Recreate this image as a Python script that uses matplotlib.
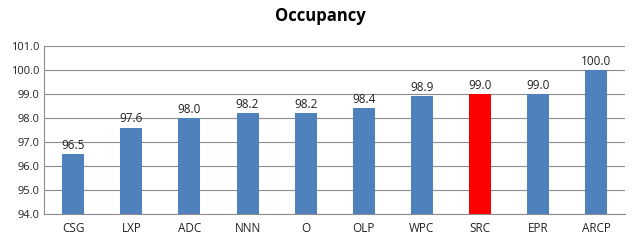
import matplotlib.pyplot as plt

# Occupancy by company
tickers = ["CSG", "LXP", "ADC", "NNN", "O", "OLP", "WPC", "SRC", "EPR", "ARCP"]
occupancy = [96.5, 97.6, 98.0, 98.2, 98.2, 98.4, 98.9, 99.0, 99.0, 100.0]
highlight = "SRC"

plt.rcParams["font.family"] = ["Open Sans", "DejaVu Sans"]

fig = plt.figure(figsize=(6.4, 2.46), dpi=100)
ax = fig.add_axes([0.069, 0.130, 0.908, 0.683])

colors = ["#FF0000" if t == highlight else "#4F81BD" for t in tickers]
x = range(len(tickers))
bars = ax.bar(x, occupancy, width=0.38, color=colors, zorder=3)

for xi, v in zip(x, occupancy):
    ax.text(xi, v + 0.1, f"{v:.1f}", ha="center", va="bottom", fontsize=8.5, color="#222222")

ax.set_ylim(94, 101)
ax.set_yticks(range(94, 102))
ax.set_yticklabels([f"{v:.1f}" for v in range(94, 102)])
ax.set_xlim(-0.5, len(tickers) - 0.5)
ax.set_xticks(list(x))
ax.set_xticklabels(tickers)
ax.tick_params(axis="both", labelsize=8, colors="#222222", length=0)
ax.tick_params(axis="x", labelsize=8.5, pad=6)
ax.grid(axis="y", color="#8c8c8c", linewidth=0.8, zorder=0)

for side in ["top", "right"]:
    ax.spines[side].set_visible(False)
ax.spines["left"].set_color("#8c8c8c")
ax.spines["bottom"].set_color("#8c8c8c")

fig.suptitle("Occupancy", y=0.97, fontsize=12, fontweight="bold")

fig.savefig("out.png", dpi=100)
